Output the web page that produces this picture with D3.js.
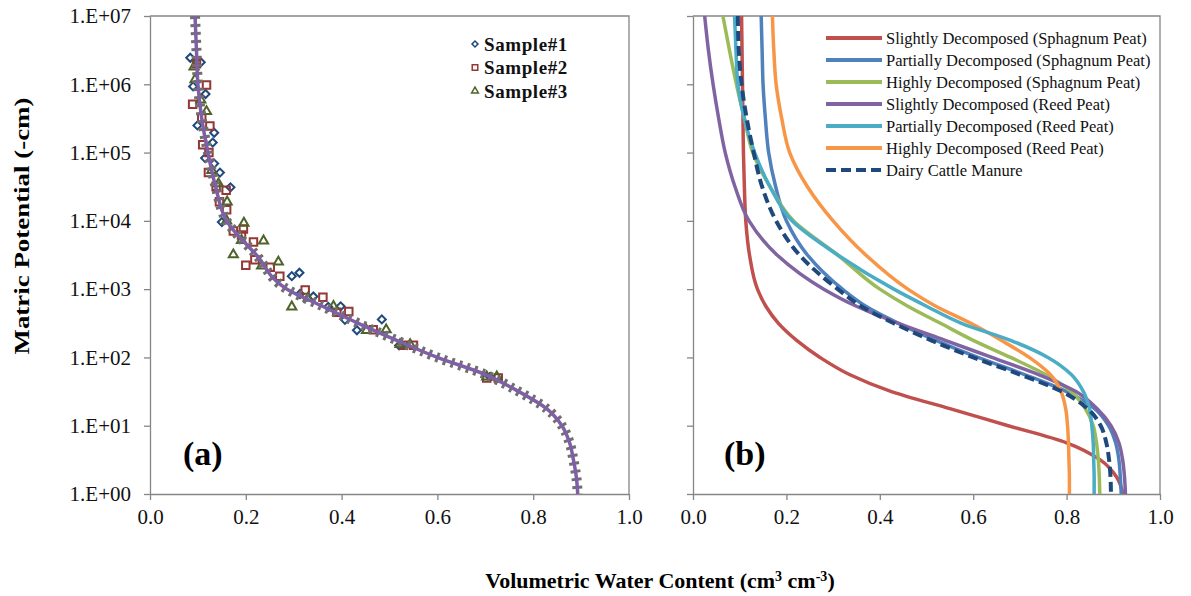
<!DOCTYPE html>
<html>
<head>
<meta charset="utf-8">
<script src="https://cdn.jsdelivr.net/npm/d3@7"></script>
<style>
  body { margin: 0; background: #fff; }
  svg { display: block; font-family: "Liberation Serif", "Times New Roman", serif; }
</style>
</head>
<body>
<div id="chart"></div>
<script>
const potentialTicks = [1, 10, 100, 1e3, 1e4, 1e5, 1e6, 1e7];
const potentialTickLabels = ["1.E+00", "1.E+01", "1.E+02", "1.E+03", "1.E+04", "1.E+05", "1.E+06", "1.E+07"];
const waterTicks = [0, 0.2, 0.4, 0.6, 0.8, 1.0];
const waterTickLabels = ["0.0", "0.2", "0.4", "0.6", "0.8", "1.0"];

// measured points [water content, matric potential]
const sample1 = [[0.084, 2.45e6], [0.106, 2.1e6], [0.090, 9.3e5], [0.116, 7.2e5], [0.099, 2.5e5], [0.134, 1.95e5],
  [0.131, 1.4e5], [0.115, 8.3e4], [0.134, 6.9e4], [0.146, 5.1e4], [0.168, 3.1e4], [0.150, 9.6e3], [0.296, 1.55e3],
  [0.312, 1.74e3], [0.313, 850], [0.341, 780], [0.372, 550], [0.398, 560], [0.407, 355], [0.432, 250], [0.484, 360],
  [0.52, 150], [0.71, 52]];
const sample2 = [[0.097, 2.0e6], [0.118, 9.8e5], [0.089, 5.1e5], [0.108, 3.2e5], [0.125, 2.45e5], [0.110, 1.3e5],
  [0.123, 1.0e5], [0.122, 5.1e4], [0.138, 3.2e4], [0.159, 2.8e4], [0.145, 1.9e4], [0.160, 1.45e4], [0.174, 7.1e3],
  [0.195, 7.6e3], [0.191, 6.2e3], [0.216, 4.9e3], [0.219, 2.7e3], [0.200, 2.24e3], [0.251, 2.1e3], [0.271, 1.55e3],
  [0.324, 970], [0.361, 760], [0.390, 460], [0.415, 470], [0.466, 255], [0.529, 151], [0.55, 151], [0.703, 50], [0.727, 50]];
const sample3 = [[0.092, 1.8e6], [0.094, 1.17e6], [0.106, 5.9e5], [0.118, 4.0e5], [0.129, 5.5e4], [0.143, 3.5e4],
  [0.161, 1.9e4], [0.160, 1.0e4], [0.196, 9.3e3], [0.191, 5.2e3], [0.237, 5.1e3], [0.174, 3.2e3], [0.233, 2.2e3],
  [0.268, 2.5e3], [0.296, 550], [0.33, 740], [0.383, 560], [0.452, 250], [0.493, 255], [0.522, 155], [0.543, 155],
  [0.703, 52], [0.724, 52]];
const sampleNames = ["Sample#1", "Sample#2", "Sample#3"];

// potentials at which the fitted curves are read
const curvePotential = [1e7, 3.16e6, 1e6, 3.16e5, 1e5, 3.16e4, 1e4, 3162, 1000, 562, 316, 178, 100, 56.2, 31.6, 17.8, 10, 5.62, 3.16, 1.78, 1];
const fitWater = [0.094, 0.097, 0.100, 0.108, 0.121, 0.137, 0.160, 0.222, 0.286, 0.36, 0.435, 0.515, 0.600, 0.70, 0.77, 0.828, 0.860, 0.876, 0.884, 0.890, 0.893];

const slightSphagnum = [0.104, 0.105, 0.106, 0.107, 0.108, 0.110, 0.113, 0.121, 0.138, 0.156, 0.183, 0.222, 0.272, 0.335, 0.425, 0.55, 0.675, 0.80, 0.872, 0.907, 0.921];
const partialSphagnum = [0.146, 0.148, 0.150, 0.155, 0.162, 0.177, 0.20, 0.245, 0.32, 0.37, 0.44, 0.52, 0.61, 0.71, 0.80, 0.86, 0.89, 0.905, 0.912, 0.915, 0.917];
const highSphagnum = [0.064, 0.078, 0.093, 0.110, 0.128, 0.165, 0.215, 0.31, 0.40, 0.46, 0.53, 0.60, 0.68, 0.755, 0.81, 0.84, 0.857, 0.864, 0.868, 0.870, 0.871];
const slightReed = [0.025, 0.033, 0.043, 0.055, 0.069, 0.09, 0.12, 0.18, 0.28, 0.35, 0.44, 0.54, 0.64, 0.74, 0.82, 0.865, 0.895, 0.912, 0.92, 0.924, 0.926];
const partialReed = [0.089, 0.092, 0.096, 0.110, 0.132, 0.165, 0.212, 0.31, 0.43, 0.50, 0.575, 0.68, 0.76, 0.81, 0.836, 0.849, 0.854, 0.857, 0.858, 0.859, 0.859];
const highReed = [0.17, 0.173, 0.178, 0.19, 0.207, 0.245, 0.30, 0.37, 0.46, 0.52, 0.595, 0.66, 0.72, 0.765, 0.788, 0.798, 0.802, 0.804, 0.805, 0.806, 0.806];
const dairyManure = [0.096, 0.098, 0.104, 0.115, 0.130, 0.148, 0.178, 0.228, 0.31, 0.36, 0.43, 0.51, 0.60, 0.70, 0.79, 0.845, 0.873, 0.885, 0.891, 0.894, 0.895];

const curveNames = ["Slightly Decomposed (Sphagnum Peat)", "Partially Decomposed (Sphagnum Peat)", "Highly Decomposed (Sphagnum Peat)",
  "Slightly Decomposed (Reed Peat)", "Partially Decomposed (Reed Peat)", "Highly Decomposed (Reed Peat)", "Dairy Cattle Manure"];
const curveSeries = [slightSphagnum, partialSphagnum, highSphagnum, slightReed, partialReed, highReed, dairyManure];
const curveColors = ["#c0504d", "#4f81bd", "#9bbb59", "#8064a2", "#4bacc6", "#f79646", "#1f497d"];

const width = 1191;
const height = 596;
const plotTop = 16;
const plotBottom = 494;
const axisColor = "#868686";

const svg = d3.select("#chart")
  .append("svg")
  .attr("width", width)
  .attr("height", height);

const y = d3.scaleLog().domain([1, 1e7]).range([plotBottom, plotTop]);
const xLeft = d3.scaleLinear().domain([0, 1]).range([150, 629]);
const xRight = d3.scaleLinear().domain([0, 1]).range([693, 1160]);

const drawFrame = (x, id, showLabels) => {
  const [x0, x1] = x.range();
  svg.append("clipPath").attr("id", id)
    .append("rect").attr("x", x0).attr("y", plotTop).attr("width", x1 - x0).attr("height", plotBottom - plotTop);

  svg.append("path")
    .attr("d", `M${x0},${plotTop}H${x1}V${plotBottom}`)
    .attr("fill", "none")
    .attr("stroke", axisColor)
    .attr("stroke-width", 1.3);

  const yAxis = svg.append("g")
    .attr("transform", `translate(${x0},0)`)
    .call(d3.axisLeft(y).tickValues(potentialTicks).tickSizeInner(6).tickSizeOuter(0).tickPadding(13)
      .tickFormat((d, i) => showLabels ? potentialTickLabels[i] : ""));

  const xAxis = svg.append("g")
    .attr("transform", `translate(0,${plotBottom})`)
    .call(d3.axisBottom(x).tickValues(waterTicks).tickSizeInner(6).tickSizeOuter(0).tickPadding(9)
      .tickFormat((d, i) => waterTickLabels[i]));

  [yAxis, xAxis].forEach(a => {
    a.select(".domain").attr("stroke", axisColor).attr("stroke-width", 1.3);
    a.selectAll(".tick line").attr("stroke", axisColor).attr("stroke-width", 1.3);
    a.selectAll(".tick text")
      .attr("fill", "#111")
      .style("font-family", "'Liberation Serif', serif")
      .style("font-size", "21px");
  });
};

drawFrame(xLeft, "clipLeft", true);
drawFrame(xRight, "clipRight", false);

// panel (a)
const markers = [
  { data: sample1, shape: d3.symbolSquare, size: 32, rotate: 45, color: "#1f497d" },
  { data: sample2, shape: d3.symbolSquare, size: 56, rotate: 0, color: "#953735" },
  { data: sample3, shape: d3.symbolTriangle, size: 36, rotate: 0, color: "#4f6228" }
];

const panelA = svg.append("g").attr("clip-path", "url(#clipLeft)");

markers.forEach(m => {
  panelA.append("g")
    .selectAll("path")
    .data(m.data)
    .enter()
    .append("path")
    .attr("d", d3.symbol().type(m.shape).size(m.size))
    .attr("transform", d => `translate(${xLeft(d[0])},${y(d[1])}) rotate(${m.rotate})`)
    .attr("fill", "none")
    .attr("stroke", m.color)
    .attr("stroke-width", 2);
});

const fitLine = d3.line()
  .x(d => xLeft(d[0]))
  .y(d => y(d[1]))
  .curve(d3.curveMonotoneY);

const fitPoints = fitWater.map((w, i) => [w, curvePotential[i]]);

panelA.append("path")
  .datum(fitPoints)
  .attr("d", fitLine)
  .attr("fill", "none")
  .attr("stroke", "#6f6f6f")
  .attr("stroke-width", 10)
  .attr("stroke-dasharray", "3,5");

panelA.append("path")
  .datum(fitPoints)
  .attr("d", fitLine)
  .attr("fill", "none")
  .attr("stroke", "#7f5fa6")
  .attr("stroke-width", 3.5);

const legendA = svg.append("g");
markers.forEach((m, i) => {
  const ly = 44 + i * 23.5;
  legendA.append("path")
    .attr("d", d3.symbol().type(m.shape).size(m.size * 0.55))
    .attr("transform", `translate(475,${ly}) rotate(${m.rotate})`)
    .attr("fill", "none")
    .attr("stroke", m.color)
    .attr("stroke-width", 1.5);
  legendA.append("text")
    .attr("x", 484)
    .attr("y", ly)
    .attr("dy", "0.35em")
    .style("font-size", "19px")
    .style("font-weight", "bold")
    .style("letter-spacing", "0.6px")
    .attr("fill", "#111")
    .text(sampleNames[i]);
});

// panel (b)
const panelB = svg.append("g").attr("clip-path", "url(#clipRight)");

const curveLine = d3.line()
  .x(d => xRight(d[0]))
  .y(d => y(d[1]))
  .curve(d3.curveMonotoneY);

const drawOrder = [0, 1, 2, 3, 5, 4, 6];
drawOrder.forEach(i => {
  panelB.append("path")
    .datum(curveSeries[i].map((w, j) => [w, curvePotential[j]]))
    .attr("d", curveLine)
    .attr("fill", "none")
    .attr("stroke", curveColors[i])
    .attr("stroke-width", i === 6 ? 4 : 3.5)
    .attr("stroke-dasharray", i === 6 ? "10,5" : null);
});

const legendB = svg.append("g");
curveNames.forEach((name, i) => {
  const ly = 38 + i * 22;
  legendB.append("line")
    .attr("x1", 826).attr("x2", 882)
    .attr("y1", ly).attr("y2", ly)
    .attr("stroke", curveColors[i])
    .attr("stroke-width", 4)
    .attr("stroke-dasharray", i === 6 ? "10,5" : null);
  legendB.append("text")
    .attr("x", 886)
    .attr("y", ly)
    .attr("dy", "0.35em")
    .style("font-size", "16.5px")
    .attr("fill", "#111")
    .text(name);
});

svg.append("text")
  .attr("x", 183).attr("y", 465)
  .style("font-size", "34px").style("font-weight", "bold")
  .text("(a)");

svg.append("text")
  .attr("x", 724).attr("y", 465)
  .style("font-size", "34px").style("font-weight", "bold")
  .text("(b)");

svg.append("text")
  .attr("transform", "translate(29,226) rotate(-90)")
  .attr("text-anchor", "middle")
  .style("font-size", "21px").style("font-weight", "bold")
  .attr("textLength", 257)
  .attr("lengthAdjust", "spacingAndGlyphs")
  .text("Matric Potential (-cm)");

const xTitle = svg.append("text")
  .attr("x", 660).attr("y", 588)
  .attr("text-anchor", "middle")
  .style("font-size", "22px").style("font-weight", "bold");
xTitle.append("tspan").text("Volumetric Water Content (cm");
xTitle.append("tspan").attr("dy", -7).style("font-size", "14px").text("3");
xTitle.append("tspan").attr("dy", 7).text(" cm");
xTitle.append("tspan").attr("dy", -7).style("font-size", "14px").text("-3");
xTitle.append("tspan").attr("dy", 7).text(")");
</script>
</body>
</html>
